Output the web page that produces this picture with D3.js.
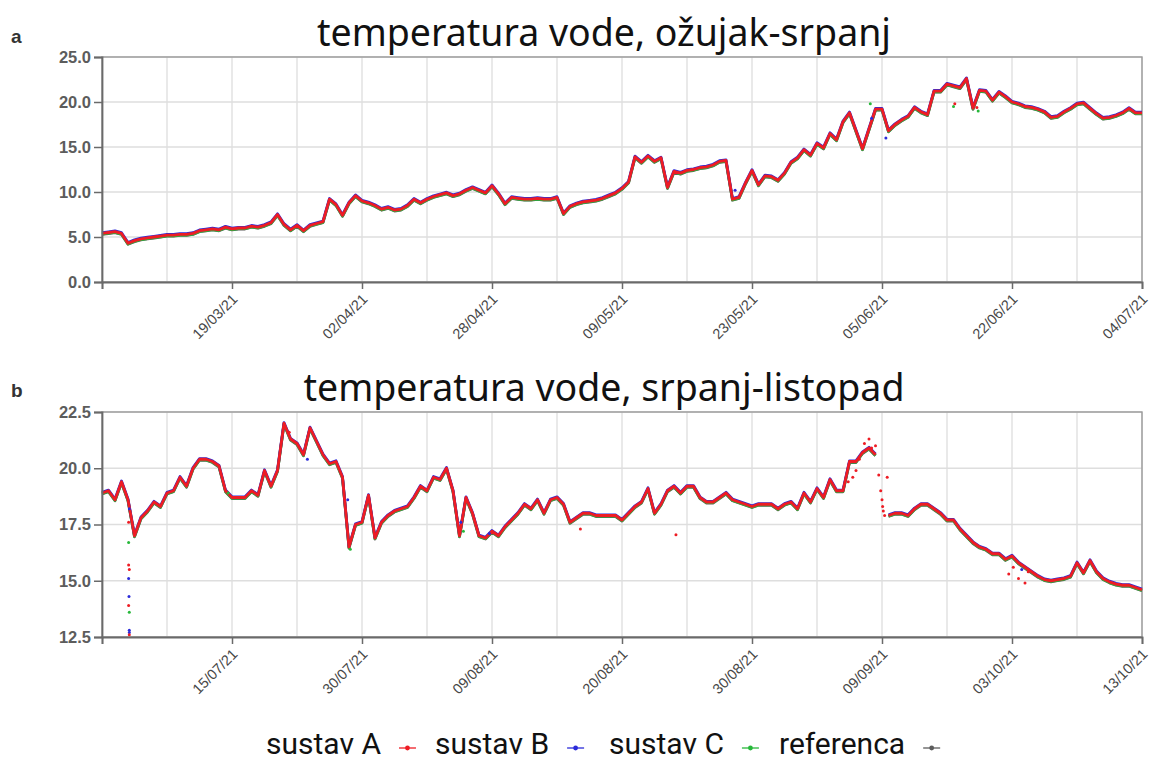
<!DOCTYPE html>
<html>
<head>
<meta charset="utf-8">
<script src="https://cdn.jsdelivr.net/npm/d3@7"></script>
<style>
  body { margin: 0; background: #fff; }
  svg { display: block; }
</style>
</head>
<body>
<script>
// water temperature, two periods; readings are sampled at equal steps along the x axis
// (the date labels are not evenly spaced in the source, so x is a sample index)

const tempMarJul = [
  5.4, 5.5, 5.6, 5.4, 4.3, 4.6, 4.8, 4.9, 5.0, 5.1,
  5.2, 5.2, 5.3, 5.3, 5.4, 5.7, 5.8, 5.9, 5.8, 6.1,
  5.9, 6.0, 6.0, 6.2, 6.1, 6.3, 6.6, 7.5, 6.4, 5.8,
  6.3, 5.7, 6.3, 6.5, 6.7, 9.2, 8.6, 7.4, 8.8, 9.6,
  9.0, 8.8, 8.5, 8.1, 8.3, 8.0, 8.1, 8.5, 9.2, 8.8,
  9.2, 9.5, 9.7, 9.9, 9.6, 9.8, 10.2, 10.5, 10.2, 9.9,
  10.7, 9.8, 8.7, 9.4, 9.3, 9.2, 9.2, 9.3, 9.2, 9.2,
  9.4, 7.6, 8.4, 8.7, 8.9, 9.0, 9.1, 9.3, 9.6, 9.9,
  10.4, 11.1, 13.9, 13.3, 14.0, 13.4, 13.8, 10.5, 12.3, 12.1,
  12.4, 12.5, 12.7, 12.8, 13.0, 13.4, 13.5, 9.2, 9.4, 11.0,
  12.4, 10.8, 11.8, 11.7, 11.3, 12.1, 13.3, 13.8, 14.7, 14.1,
  15.4, 14.9, 16.5, 15.8, 17.8, 18.8, 16.8, 14.8, 17.0, 19.2,
  19.2, 16.8, 17.5, 18.0, 18.4, 19.4, 18.9, 18.6, 21.2, 21.2,
  22.0, 21.8, 21.6, 22.6, 19.3, 21.3, 21.2, 20.2, 21.1, 20.6,
  20.0, 19.8, 19.5, 19.4, 19.2, 18.9, 18.3, 18.4, 18.9, 19.3,
  19.8, 19.9, 19.3, 18.7, 18.2, 18.3, 18.5, 18.8, 19.3, 18.8,
  18.8
];

const tempJulOct = [
  18.9, 19.0, 18.6, 19.4, 18.6, 17.0, 17.8, 18.1, 18.5, 18.3,
  18.9, 19.0, 19.6, 19.2, 20.0, 20.4, 20.4, 20.3, 20.1, 19.0,
  18.7, 18.7, 18.7, 19.0, 18.8, 19.9, 19.2, 19.9, 22.0, 21.3,
  21.1, 20.6, 21.8, 21.2, 20.6, 20.2, 20.3, 19.6, 16.5, 17.5,
  17.6, 18.8, 16.9, 17.6, 17.9, 18.1, 18.2, 18.3, 18.7, 19.2,
  19.0, 19.6, 19.5, 20.0, 19.0, 17.0, 18.7, 18.0, 17.0, 16.9,
  17.2, 17.0, 17.4, 17.7, 18.0, 18.4, 18.2, 18.6, 18.0, 18.6,
  18.7, 18.4, 17.6, 17.8, 18.0, 18.0, 17.9, 17.9, 17.9, 17.9,
  17.7, 18.0, 18.3, 18.5, 19.1, 18.0, 18.4, 19.0, 19.2, 18.9,
  19.2, 19.2, 18.7, 18.5, 18.5, 18.7, 18.9, 18.6, 18.5, 18.4,
  18.3, 18.4, 18.4, 18.4, 18.2, 18.4, 18.5, 18.2, 18.9, 18.5,
  19.1, 18.7, 19.5, 19.0, 19.0, 20.3, 20.3, 20.7, 20.9, 20.6,
  null, 17.9, 18.0, 18.0, 17.9, 18.2, 18.4, 18.4, 18.2, 18.0,
  17.7, 17.7, 17.3, 17.0, 16.7, 16.5, 16.4, 16.2, 16.2, 15.95,
  16.1, 15.8, 15.6, 15.4, 15.2, 15.05, 15.0, 15.05, 15.1, 15.2,
  15.8, 15.35, 15.9, 15.4, 15.1, 14.95, 14.85, 14.8, 14.8, 14.7,
  14.6
];

// loose readings that sit off the main trace: [sample index, value]
const dotsMarJulA = [[131.2, 19.8], [134.6, 19.4], [121.5, 17.2]];
const dotsMarJulB = [[97.4, 10.2], [118.4, 18.2], [120.6, 16.0]];
const dotsMarJulC = [[131.0, 19.5], [134.8, 19.0], [118.2, 19.8]];

const dotsJulOctA = [
  [4.1, 17.6], [4.1, 15.7], [4.2, 15.5], [4.1, 13.9], [4.2, 12.6],
  [115.5, 19.6], [116.0, 19.9], [116.5, 20.4], [117.3, 21.1], [118.0, 21.3],
  [118.4, 20.9], [119.0, 21.0], [119.5, 19.7], [119.8, 19.0], [120.0, 18.6],
  [120.2, 18.1], [120.4, 17.9], [120.8, 19.6], [120.1, 18.3], [114.8, 19.4],
  [139.5, 15.3], [141.0, 15.1], [142.0, 14.9], [142.5, 15.4], [140.2, 15.6],
  [88.3, 17.05], [73.6, 17.3], [28.8, 21.6]
];
const dotsJulOctB = [
  [4.2, 18.2], [4.1, 15.1], [4.15, 14.3], [4.2, 12.8], [4.2, 12.7],
  [31.6, 20.4], [37.8, 18.6], [55.2, 17.6], [59.6, 17.1], [141.5, 15.5]
];
const dotsJulOctC = [[4.2, 13.6], [4.1, 16.7], [38.2, 16.4], [55.6, 17.2], [19.4, 18.9]];

const yTicksMarJul = [0, 5, 10, 15, 20, 25];
const yTicksJulOct = [12.5, 15, 17.5, 20, 22.5];
const xLabelsMarJul = ['', '19/03/21', '02/04/21', '28/04/21', '09/05/21', '23/05/21', '05/06/21', '22/06/21', '04/07/21'];
const xLabelsJulOct = ['', '15/07/21', '30/07/21', '09/08/21', '20/08/21', '30/08/21', '09/09/21', '03/10/21', '13/10/21'];

const seriesNames = ['sustav A', 'sustav B', 'sustav C', 'referenca'];
const seriesColors = ['#ee1c24', '#2b2bd9', '#27b83a', '#5c5c5c'];

const W = 1156, H = 760;
const svg = d3.select('body').append('svg').attr('width', W).attr('height', H);

const drawPanel = (opt) => {
  const x = d3.scaleLinear().domain([0, opt.values.length - 1]).range([102, 1142]);
  const y = d3.scaleLinear().domain(opt.yDomain).range([opt.bottom, opt.top]);
  const g = svg.append('g');

  // grid
  g.append('g').selectAll('line').data(d3.range(0, 161, 10)).join('line')
    .attr('x1', d => x(d)).attr('x2', d => x(d))
    .attr('y1', opt.top).attr('y2', opt.bottom)
    .attr('stroke', '#dedede').attr('stroke-width', 1.3);
  g.append('g').selectAll('line').data(opt.yTicks).join('line')
    .attr('x1', 102).attr('x2', 1142)
    .attr('y1', d => y(d)).attr('y2', d => y(d))
    .attr('stroke', '#dedede').attr('stroke-width', 1.3);

  g.append('rect')
    .attr('x', 102).attr('y', opt.top)
    .attr('width', 1040).attr('height', opt.bottom - opt.top)
    .attr('fill', 'none').attr('stroke', '#9a9a9a').attr('stroke-width', 1.4);

  // traces: reference at the bottom, sustav A on top
  const line = d3.line()
    .defined(d => d != null)
    .x((d, i) => x(i))
    .y(d => y(d));
  const offsets = [0, -0.7, 0.7, 1.0];
  [3, 2, 1, 0].forEach(k => {
    g.append('path')
      .datum(opt.values)
      .attr('d', line)
      .attr('transform', `translate(0,${offsets[k]})`)
      .attr('fill', 'none')
      .attr('stroke', seriesColors[k])
      .attr('stroke-width', 2.8)
      .attr('stroke-linejoin', 'round');
  });

  [[opt.dotsC, 2], [opt.dotsB, 1], [opt.dotsA, 0]].forEach(([dots, k]) => {
    g.append('g').selectAll('circle').data(dots).join('circle')
      .attr('cx', d => x(d[0])).attr('cy', d => y(d[1]))
      .attr('r', 1.5).attr('fill', seriesColors[k]);
  });

  // axes
  const yAxis = g.append('g')
    .attr('transform', 'translate(102,0)')
    .call(d3.axisLeft(y).tickValues(opt.yTicks).tickFormat(d3.format('.1f')).tickSize(8).tickPadding(3));
  yAxis.select('.domain').attr('stroke', '#6a6a6a').attr('stroke-width', 1.8);
  yAxis.selectAll('.tick line').attr('stroke', '#6a6a6a').attr('stroke-width', 1.5);
  yAxis.selectAll('text')
    .attr('font-family', 'Liberation Sans, Arial, sans-serif')
    .attr('font-size', 16.5).attr('font-weight', 'bold').attr('fill', '#5c5c5c');

  const xAxis = g.append('g')
    .attr('transform', `translate(0,${opt.bottom})`)
    .call(d3.axisBottom(x).tickValues(d3.range(0, 161, 20)).tickFormat((d, i) => opt.xLabels[i]).tickSize(7));
  xAxis.select('.domain').attr('stroke', '#6a6a6a').attr('stroke-width', 1.8);
  xAxis.selectAll('.tick line').attr('stroke', '#6a6a6a').attr('stroke-width', 1.5);
  xAxis.selectAll('text')
    .attr('font-family', 'Liberation Sans, Arial, sans-serif')
    .attr('font-size', 14.5).attr('fill', '#474747')
    .attr('text-anchor', 'end')
    .attr('x', 0).attr('y', 0).attr('dy', 0)
    .attr('transform', 'translate(6,18) rotate(-45)');

  svg.append('text')
    .attr('x', 604).attr('y', opt.titleY)
    .attr('text-anchor', 'middle')
    .attr('font-family', 'Noto Sans, sans-serif')
    .attr('font-size', 37.5).attr('fill', '#111')
    .text(opt.title);

  svg.append('text')
    .attr('x', 11).attr('y', opt.letterY)
    .attr('font-family', 'Liberation Sans, Arial, sans-serif')
    .attr('font-size', 19).attr('font-weight', 'bold').attr('fill', '#333')
    .text(opt.letter);
};

drawPanel({
  values: tempMarJul, dotsA: dotsMarJulA, dotsB: dotsMarJulB, dotsC: dotsMarJulC,
  yDomain: [0, 25], yTicks: yTicksMarJul, xLabels: xLabelsMarJul,
  top: 57, bottom: 282, title: 'temperatura vode, ožujak-srpanj', titleY: 46,
  letter: 'a', letterY: 43
});

drawPanel({
  values: tempJulOct, dotsA: dotsJulOctA, dotsB: dotsJulOctB, dotsC: dotsJulOctC,
  yDomain: [12.5, 22.5], yTicks: yTicksJulOct, xLabels: xLabelsJulOct,
  top: 412, bottom: 637, title: 'temperatura vode, srpanj-listopad', titleY: 401,
  letter: 'b', letterY: 397
});

// legend: label first, then its marker
const legendX = [266, 435, 609, 779];
const legend = svg.append('g');
seriesNames.forEach((name, k) => {
  const t = legend.append('text')
    .attr('x', legendX[k]).attr('y', 754)
    .attr('font-family', 'Roboto, sans-serif')
    .attr('font-size', 30).attr('fill', '#111')
    .text(name);
  const end = legendX[k] + t.node().getComputedTextLength();
  const mx = end + 18;
  legend.append('line')
    .attr('x1', mx).attr('x2', mx + 17).attr('y1', 748).attr('y2', 748)
    .attr('stroke', seriesColors[k]).attr('stroke-width', 1.3);
  legend.append('circle')
    .attr('cx', mx + 8.5).attr('cy', 748).attr('r', 2.4).attr('fill', seriesColors[k]);
});
</script>
</body>
</html>
